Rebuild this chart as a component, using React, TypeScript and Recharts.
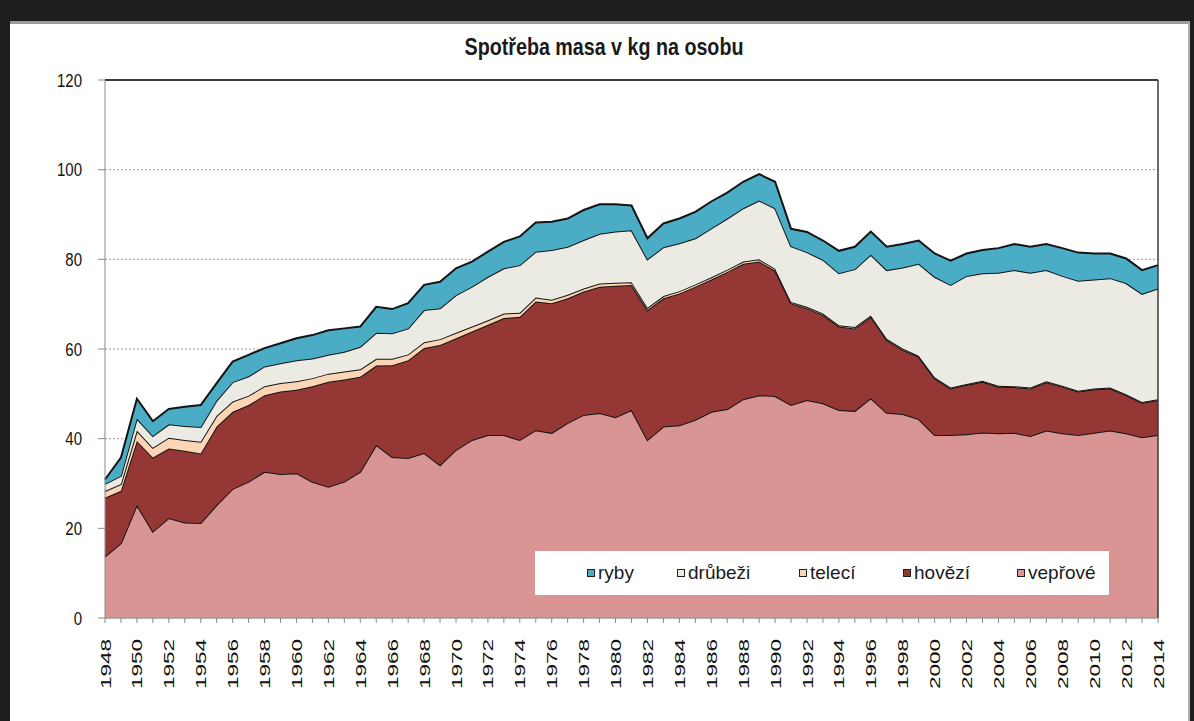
import React from 'react';
import { AreaChart, Area, XAxis, YAxis, CartesianGrid, Legend, ReferenceLine } from 'recharts';

const years = [
  1948, 1949, 1950, 1951, 1952, 1953, 1954, 1955, 1956, 1957, 1958, 1959, 1960, 1961, 1962, 1963, 1964,
  1965, 1966, 1967, 1968, 1969, 1970, 1971, 1972, 1973, 1974, 1975, 1976, 1977, 1978, 1979, 1980, 1981,
  1982, 1983, 1984, 1985, 1986, 1987, 1988, 1989, 1990, 1991, 1992, 1993, 1994, 1995, 1996, 1997, 1998,
  1999, 2000, 2001, 2002, 2003, 2004, 2005, 2006, 2007, 2008, 2009, 2010, 2011, 2012, 2013, 2014,
];

const veprove = [
  13.7, 16.7, 25.2, 19.3, 22.3, 21.3, 21.2, 25.2, 28.8, 30.4, 32.6, 32.1, 32.3, 30.4, 29.3, 30.4, 32.6,
  38.6, 35.9, 35.7, 36.8, 34.1, 37.5, 39.7, 40.8, 40.8, 39.7, 41.9, 41.3, 43.5, 45.3, 45.7, 44.8, 46.4,
  39.7, 42.7, 43.0, 44.2, 46.0, 46.6, 48.8, 49.7, 49.5, 47.5, 48.6, 47.9, 46.4, 46.2, 49.0, 45.8, 45.5,
  44.4, 40.8, 40.8, 41.0, 41.4, 41.2, 41.3, 40.6, 41.8, 41.2, 40.8, 41.3, 41.8, 41.2, 40.3, 40.8,
];

const hovezi = [
  13.1, 11.7, 14.3, 16.5, 15.5, 16.0, 15.5, 17.5, 17.2, 17.1, 17.1, 18.4, 18.6, 21.3, 23.4, 22.8, 21.2,
  17.7, 20.5, 21.8, 23.4, 26.8, 24.9, 24.2, 24.6, 26.1, 27.5, 28.7, 28.9, 27.8, 27.5, 28.2, 29.3, 27.9,
  29.0, 28.6, 29.4, 29.7, 29.5, 30.6, 30.2, 29.8, 28.0, 22.7, 20.5, 19.7, 18.6, 18.4, 18.2, 16.2, 14.3,
  13.9, 12.7, 10.4, 11.0, 11.3, 10.4, 10.2, 10.6, 10.8, 10.4, 9.7, 9.7, 9.4, 8.5, 7.7, 7.8,
];

const teleci = [
  1.5, 1.5, 2.3, 2.2, 2.4, 2.4, 2.6, 2.4, 2.3, 2.1, 2.0, 1.9, 1.9, 1.8, 1.8, 1.8, 1.7,
  1.5, 1.4, 1.3, 1.3, 1.3, 1.2, 1.1, 1.0, 1.0, 0.9, 0.9, 0.8, 0.8, 0.7, 0.7, 0.7, 0.6,
  0.5, 0.5, 0.5, 0.5, 0.5, 0.5, 0.5, 0.5, 0.4, 0.3, 0.3, 0.3, 0.3, 0.3, 0.3, 0.3, 0.3,
  0.2, 0.2, 0.2, 0.2, 0.2, 0.2, 0.2, 0.2, 0.2, 0.2, 0.2, 0.2, 0.2, 0.2, 0.2, 0.2,
];

const drubezi = [
  1.6, 1.8, 2.7, 2.6, 3.0, 3.1, 3.3, 3.4, 4.3, 4.3, 4.4, 4.4, 4.7, 4.4, 4.2, 4.4, 5.0,
  5.8, 5.7, 5.8, 7.2, 6.9, 8.4, 8.9, 9.7, 10.1, 10.6, 10.2, 11.1, 10.7, 10.8, 11.1, 11.4, 11.6,
  10.8, 10.9, 10.7, 10.3, 10.9, 11.4, 11.9, 13.1, 13.5, 12.4, 12.2, 12.0, 11.6, 12.9, 13.5, 15.3, 18.1,
  20.5, 22.4, 22.9, 24.1, 24.0, 25.2, 25.9, 25.6, 24.8, 24.5, 24.5, 24.3, 24.4, 24.8, 24.1, 24.7,
];

const ryby = [
  1.0, 4.1, 4.4, 3.3, 3.4, 4.3, 4.9, 3.9, 4.6, 4.8, 4.1, 4.5, 4.9, 5.2, 5.5, 5.2, 4.5,
  5.8, 5.4, 5.6, 5.6, 5.9, 6.0, 5.6, 5.6, 5.9, 6.4, 6.5, 6.3, 6.3, 6.7, 6.6, 6.1, 5.5,
  4.7, 5.3, 5.5, 5.9, 6.0, 5.8, 5.9, 5.9, 5.9, 3.9, 4.5, 4.3, 5.0, 5.0, 5.2, 5.2, 5.2,
  5.2, 5.2, 5.4, 5.0, 5.2, 5.5, 5.8, 5.8, 5.8, 6.2, 6.3, 5.8, 5.5, 5.5, 5.3, 5.2,
];

const yTicks = [0, 20, 40, 60, 80, 100, 120];

const seriesKeys = ['veprove', 'hovezi', 'teleci', 'drubezi', 'ryby'];
const seriesNames = ['vepřové', 'hovězí', 'telecí', 'drůbeži', 'ryby'];
const seriesColors = ['#d99594', '#953735', '#fbd5b5', '#ecebe3', '#4bacc6'];

const legendOrder = ['ryby', 'drubezi', 'teleci', 'hovezi', 'veprove'];
const legendX = [52, 142, 264, 368, 482];

const data = years.map((year, i) => ({
  year,
  veprove: veprove[i],
  hovezi: hovezi[i],
  teleci: teleci[i],
  drubezi: drubezi[i],
  ryby: ryby[i],
}));

const FONT = '"Liberation Sans", Arial, Helvetica, sans-serif';

const YTick = (props: any) => {
  const { y, payload } = props;
  return (
    <text
      transform={`translate(82, ${y}) scale(1, 1.25)`}
      x={0}
      y={0}
      dy="0.36em"
      textAnchor="end"
      fontFamily={FONT}
      fontSize={15}
      fill="#111"
    >
      {payload.value}
    </text>
  );
};

const XTick = (props: any) => {
  const { x, payload } = props;
  if (payload.value % 2 !== 0) return <g />;
  return (
    <text
      transform={`translate(${x + 5.5}, 639) rotate(-90) scale(1.5, 1)`}
      x={0}
      y={0}
      textAnchor="end"
      fontFamily={FONT}
      fontSize={15}
      fill="#111"
    >
      {payload.value}
    </text>
  );
};

const LegendContent = () => (
  <div
    style={{
      position: 'relative',
      width: 574,
      height: 44,
      background: '#ffffff',
      fontFamily: FONT,
      fontSize: 19,
      color: '#1a1a1a',
    }}
  >
    {legendOrder.map((key, j) => {
      const idx = seriesKeys.indexOf(key);
      return (
        <div
          key={key}
          style={{ position: 'absolute', left: legendX[j], top: 0, height: 44, display: 'flex', alignItems: 'center' }}
        >
          <span
            style={{
              display: 'inline-block',
              width: 6,
              height: 6,
              background: seriesColors[idx],
              border: '1px solid #222',
              marginRight: 3,
            }}
          />
          <span style={{ lineHeight: '44px' }}>{seriesNames[idx]}</span>
        </div>
      );
    })}
  </div>
);

export default function App() {
  return (
    <div style={{ position: 'absolute', left: 0, top: 0, width: 1194, height: 721, background: '#1e1e1e', overflow: 'hidden' }}>
      <div
        style={{
          position: 'absolute',
          left: 10,
          top: 21,
          width: 1180,
          height: 700,
          background: '#ffffff',
          borderTop: '3px solid #9c9c9c',
          borderRight: '2px solid #b0b0b0',
          boxSizing: 'border-box',
        }}
      />
      <div
        style={{
          position: 'absolute',
          left: 404,
          top: 35,
          width: 400,
          textAlign: 'center',
          fontFamily: FONT,
          fontWeight: 'bold',
          fontSize: 24,
          lineHeight: '24px',
          color: '#1a1a1a',
          transform: 'scaleX(0.82)',
          whiteSpace: 'nowrap',
        }}
      >
        Spotřeba masa v kg na osobu
      </div>
      <div style={{ position: 'absolute', left: 0, top: 0 }}>
        <AreaChart width={1194} height={721} data={data} margin={{ top: 80, right: 36, left: 0, bottom: 0 }}>
          <CartesianGrid vertical={false} stroke="#9a9a9a" strokeDasharray="2 2" />
          <XAxis
            dataKey="year"
            type="number"
            domain={[1948, 2014]}
            ticks={years}
            interval={0}
            height={103}
            tick={<XTick />}
            tickSize={5}
            axisLine={{ stroke: '#8a8a8a' }}
            tickLine={{ stroke: '#8a8a8a' }}
          />
          <YAxis
            type="number"
            domain={[0, 120]}
            ticks={yTicks}
            width={105}
            tick={<YTick />}
            tickSize={7}
            axisLine={{ stroke: '#8a8a8a' }}
            tickLine={{ stroke: '#8a8a8a' }}
          />
          <ReferenceLine y={120} stroke="#3a3a3a" strokeWidth={2} />
          <ReferenceLine x={2014} stroke="#3a3a3a" strokeWidth={1.5} />
          {seriesKeys.map((key, i) => (
            <Area
              key={key}
              type="linear"
              dataKey={key}
              name={seriesNames[i]}
              stackId="1"
              fill={seriesColors[i]}
              fillOpacity={1}
              stroke="#141414"
              strokeWidth={2}
              isAnimationActive={false}
              dot={false}
              activeDot={false}
            />
          ))}
          <Legend
            layout="horizontal"
            verticalAlign="middle"
            align="center"
            content={<LegendContent />}
            wrapperStyle={{ position: 'absolute', left: 535, top: 551, width: 574, height: 44 }}
          />
        </AreaChart>
      </div>
    </div>
  );
}
